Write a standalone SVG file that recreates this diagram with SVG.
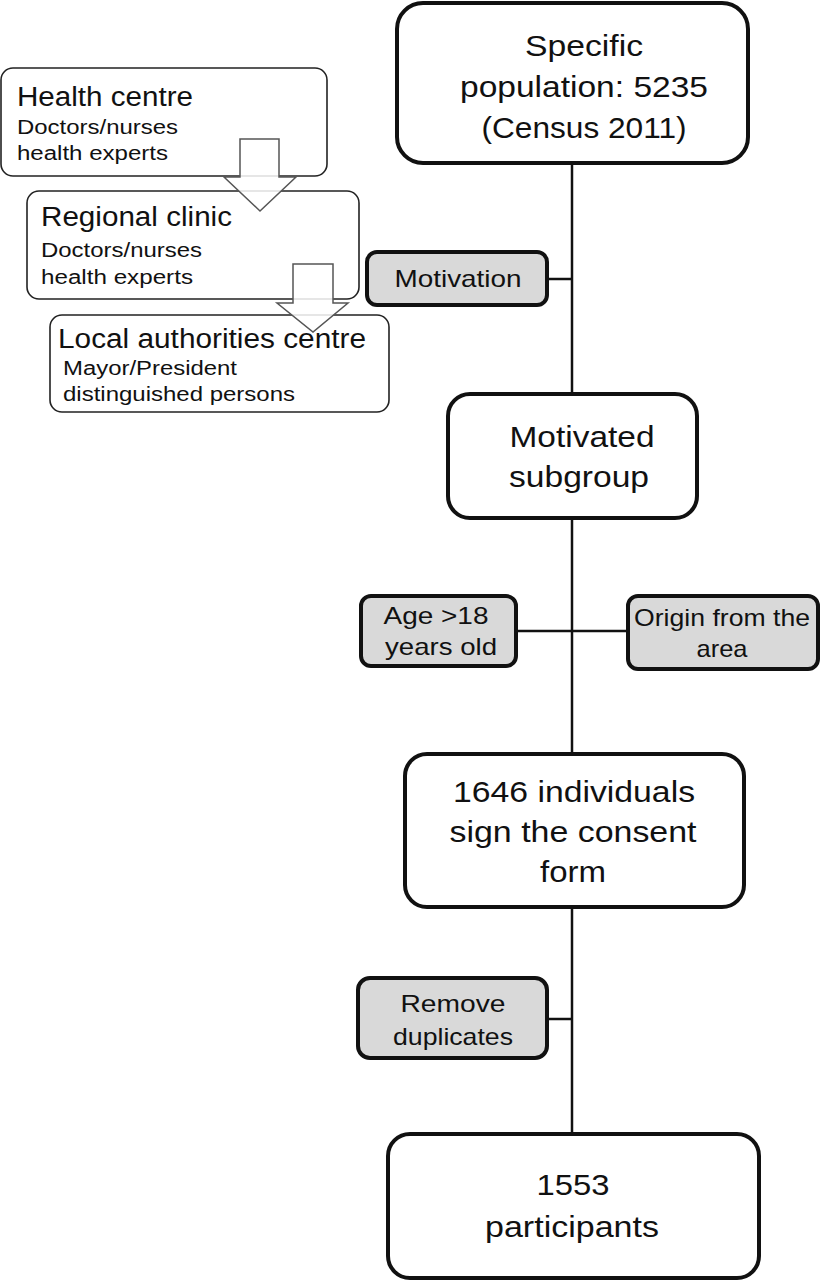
<svg xmlns="http://www.w3.org/2000/svg" width="820" height="1282" viewBox="0 0 820 1282">
<style>
text{font-family:"Liberation Sans",Arial,sans-serif;fill:#111}
.main{fill:#fff;stroke:#111;stroke-width:4}
.gray{fill:#d9d9d9;stroke:#111;stroke-width:4}
.thin{fill:#fff;stroke:#222;stroke-width:1.6}
.conn{stroke:#111;stroke-width:2.5;fill:none}
.big{font-size:30px;text-anchor:middle}
.mid{font-size:24px;text-anchor:middle}
.h{font-size:27px}
.s{font-size:20px}
.arr{fill:#fff;fill-opacity:0.85;stroke:#555;stroke-width:1.5}
</style>
<g id="connectors">
<line class="conn" x1="572" y1="163" x2="572" y2="393"/>
<line class="conn" x1="547" y1="279" x2="572" y2="279"/>
<line class="conn" x1="572" y1="518" x2="572" y2="753"/>
<line class="conn" x1="516" y1="631" x2="628" y2="631"/>
<line class="conn" x1="572" y1="908" x2="572" y2="1133"/>
<line class="conn" x1="547" y1="1019" x2="572" y2="1019"/>
</g>
<g id="health-centre">
<rect class="thin" x="1" y="68" width="326" height="108" rx="12"/>
<text class="h" x="17" y="106" textLength="176" lengthAdjust="spacingAndGlyphs">Health centre</text>
<text class="s" x="17" y="134" textLength="161" lengthAdjust="spacingAndGlyphs">Doctors/nurses</text>
<text class="s" x="17" y="160" textLength="151" lengthAdjust="spacingAndGlyphs">health experts</text>
</g>
<g id="regional-clinic">
<rect class="thin" x="27" y="191" width="332" height="108" rx="12"/>
<text class="h" x="41" y="226" textLength="191" lengthAdjust="spacingAndGlyphs">Regional clinic</text>
<text class="s" x="41" y="257" textLength="161" lengthAdjust="spacingAndGlyphs">Doctors/nurses</text>
<text class="s" x="41" y="284" textLength="152" lengthAdjust="spacingAndGlyphs">health experts</text>
</g>
<g id="arrow1">
<polygon class="arr" points="240,139 279,139 279,177 296,177 260,211 224,177 240,177"/>
</g>
<g id="local-authorities">
<rect class="thin" x="50" y="315" width="339" height="97" rx="12"/>
<text class="h" x="58" y="348" textLength="308" lengthAdjust="spacingAndGlyphs">Local authorities centre</text>
<text class="s" x="63" y="375" textLength="174" lengthAdjust="spacingAndGlyphs">Mayor/President</text>
<text class="s" x="63" y="401" textLength="232" lengthAdjust="spacingAndGlyphs">distinguished persons</text>
</g>
<g id="arrow2">
<polygon class="arr" points="293,264 333,264 333,303 348,303 313,332 277,303 293,303"/>
</g>
<g id="specific-population">
<rect class="main" x="397" y="3" width="351" height="160" rx="26"/>
<text class="big" x="584" y="56" textLength="118" lengthAdjust="spacingAndGlyphs">Specific</text>
<text class="big" x="584" y="97" textLength="248" lengthAdjust="spacingAndGlyphs">population: 5235</text>
<text class="big" x="584" y="138" textLength="205" lengthAdjust="spacingAndGlyphs">(Census 2011)</text>
</g>
<g id="motivation">
<rect class="gray" x="367" y="252" width="180" height="53" rx="10"/>
<text class="mid" x="458" y="287" textLength="127" lengthAdjust="spacingAndGlyphs">Motivation</text>
</g>
<g id="motivated-subgroup">
<rect class="main" x="448" y="394" width="249" height="124" rx="22"/>
<text class="big" x="582" y="447" textLength="145" lengthAdjust="spacingAndGlyphs">Motivated</text>
<text class="big" x="579" y="487" textLength="140" lengthAdjust="spacingAndGlyphs">subgroup</text>
</g>
<g id="age">
<rect class="gray" x="361" y="596" width="155" height="70" rx="10"/>
<text class="mid" x="436" y="624" textLength="105" lengthAdjust="spacingAndGlyphs">Age &gt;18</text>
<text class="mid" x="441" y="655" textLength="112" lengthAdjust="spacingAndGlyphs">years old</text>
</g>
<g id="origin">
<rect class="gray" x="628" y="596" width="190" height="73" rx="10"/>
<text class="mid" x="722" y="626" textLength="176" lengthAdjust="spacingAndGlyphs">Origin from the</text>
<text class="mid" x="722" y="657" textLength="51" lengthAdjust="spacingAndGlyphs">area</text>
</g>
<g id="consent">
<rect class="main" x="405" y="754" width="339" height="153" rx="22"/>
<text class="big" x="574" y="802" textLength="242" lengthAdjust="spacingAndGlyphs">1646 individuals</text>
<text class="big" x="573" y="842" textLength="247" lengthAdjust="spacingAndGlyphs">sign the consent</text>
<text class="big" x="573" y="882" textLength="66" lengthAdjust="spacingAndGlyphs">form</text>
</g>
<g id="remove-duplicates">
<rect class="gray" x="358" y="978" width="189" height="80" rx="12"/>
<text class="mid" x="453" y="1012" textLength="105" lengthAdjust="spacingAndGlyphs">Remove</text>
<text class="mid" x="453" y="1045" textLength="120" lengthAdjust="spacingAndGlyphs">duplicates</text>
</g>
<g id="participants">
<rect class="main" x="388" y="1134" width="371" height="144" rx="22"/>
<text class="big" x="573" y="1195" textLength="73" lengthAdjust="spacingAndGlyphs">1553</text>
<text class="big" x="572" y="1237" textLength="174" lengthAdjust="spacingAndGlyphs">participants</text>
</g>
</svg>
